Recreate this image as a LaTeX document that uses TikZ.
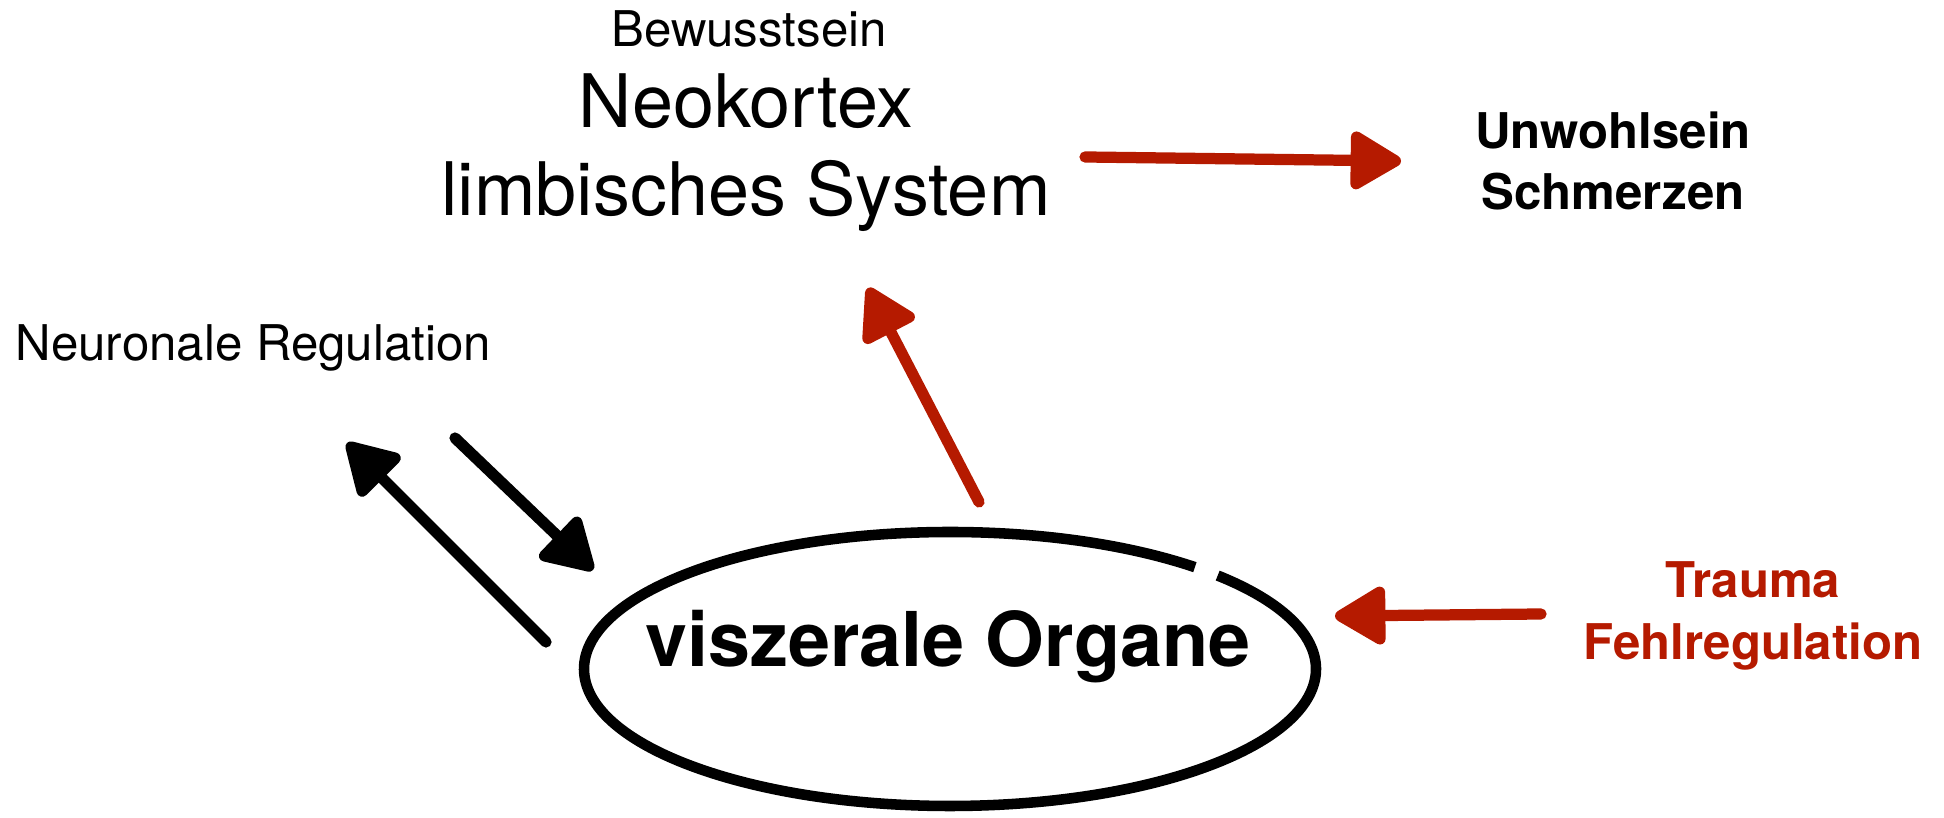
\documentclass[tikz,border=0pt]{standalone}
\usepackage{fontspec}
\setmainfont{TeX Gyre Heros}
\usetikzlibrary{arrows.meta}
\definecolor{brushred}{RGB}{181,26,0}
\tikzset{
  bigtext/.style={font=\fontsize{21}{25}\selectfont, align=center, inner sep=0pt},
  smalltext/.style={font=\fontsize{14}{17.6}\selectfont, align=center, inner sep=0pt},
  boldtext/.style={font=\fontsize{14}{17.6}\selectfont\bfseries, align=center, inner sep=0pt},
  brush/.style={line width=3.2pt, line cap=round, ->},
}
\begin{document}
\begin{tikzpicture}[line join=round, >={Triangle[length=16pt, width=18pt, round]}]
            \useasboundingbox (0,0) rectangle (19.44,8.18);
            % Labels
            \node[smalltext] (bewusst) at (7.49,7.89) {Bewusstsein};
            \node[bigtext] (kortex) at (7.46,6.65) {Neokortex\\limbisches System};
            \node[boldtext] (unwohl) at (16.13,6.57) {Unwohlsein\\Schmerzen};
            \node[smalltext, anchor=west] (neuro) at (0.15,4.70) {Neuronale Regulation};
            \node[boldtext, text=brushred] (trauma) at (17.53,2.02) {Trauma\\Fehlregulation};
            \node[font=\fontsize{21.5}{25}\selectfont\bfseries, inner sep=0pt] (organe) at (9.48,1.71) {viszerale Organe};
            
            % Ellipse round the organs
            \draw[line width=3pt] (9.50,1.49) ++(48:3.66 and 1.37)
                arc[start angle=48, end angle=403, x radius=3.66, y radius=1.37];
            
            % Coordinate points
            \coordinate (R1) at (10.85,6.61);
            \coordinate (R2) at (14.01,6.57);
            \coordinate (U1) at (9.79,3.16);
            \coordinate (U2) at (8.68,5.30);
            \coordinate (L1) at (15.41,2.04);
            \coordinate (L2) at (13.35,2.02);
            \coordinate (B1) at (5.46,1.76);
            \coordinate (B2) at (3.47,3.75);
            \coordinate (C1) at (4.55,3.80);
            \coordinate (C2) at (5.93,2.48);
            
            % Arrows
            \draw[brush, brushred] (R1) -- (R2);
            \draw[brush, brushred] (U1) -- (U2);
            \draw[brush, brushred] (L1) -- (L2);
            \draw[brush, black] (B1) -- (B2);
            \draw[brush, black] (C1) -- (C2);
        \end{tikzpicture}
\end{document}
